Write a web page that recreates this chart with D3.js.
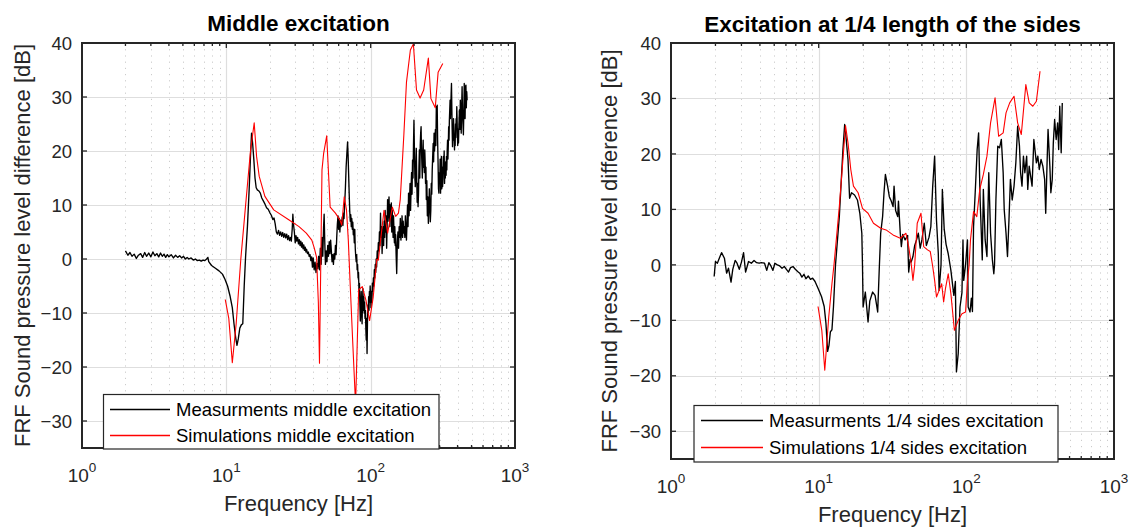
<!DOCTYPE html>
<html><head><meta charset="utf-8">
<script src="https://cdn.jsdelivr.net/npm/d3@7"></script>
<style>
body{margin:0;background:#fff}
svg{display:block}
text{font-family:"Liberation Sans",Arial,Helvetica,sans-serif;fill:#262626}
</style>
</head><body>
<svg id="c" width="1132" height="527"></svg>
<script>
// ---------------- DATA ----------------
const xTickValues = [1, 10, 100, 1000];
const xTickExponents = ["0", "1", "2", "3"];
const yTickValues = [-30, -20, -10, 0, 10, 20, 30, 40];
const titles = ["Middle excitation", "Excitation at 1/4 length of the sides"];
const xLabel = "Frequency [Hz]";
const yLabel = "FRF Sound pressure level difference [dB]";
const legendMid = ["Measurments middle excitation", "Simulations middle excitation"];
const legendQuarter = ["Measurments 1/4 sides excitation", "Simulations 1/4 sides excitation"];

// Middle excitation - measurement
const midMeasFreq = [2.0,2.08,2.15,2.22,2.3,2.38,2.46,2.55,2.63,2.72,2.8,2.9,3.0,3.1,3.2,3.3,3.4,3.5,3.6,3.7,3.8,3.9,4.0,4.15,4.3,4.45,4.6,4.75,4.9,5.05,5.2,5.35,5.5,5.7,5.9,6.1,6.3,6.5,6.7,6.9,7.1,7.3,7.45,7.55,7.9,8.4,8.9,9.4,9.8,10.2,10.6,11.0,11.3,11.6,11.85,12.1,12.4,12.7,13.0,13.3,13.6,14.0,14.4,14.7,14.95,15.2,15.5,15.8,16.1,16.4,16.8,17.2,17.6,18.0,18.5,19.0,19.5,20.0,20.5,21.0,21.4,21.8,22.2,22.6,23.0,23.4,23.8,24.2,24.6,25.0,25.4,25.8,26.2,26.6,27.0,27.4,27.8,28.2,28.6,28.9,29.2,29.6,30.0,30.4,30.8,31.2,31.6,32.0,32.4,32.8,33.2,33.6,34.0,34.4,34.8,35.2,35.6,36.0,36.5,37.0,37.5,38.0,38.5,39.0,39.5,40.0,40.6,41.2,41.8,42.4,43.0,43.6,44.2,44.8,45.4,46.0,46.6,47.2,47.6,48.1,48.6,49.2,49.8,50.4,51.0,51.6,52.2,52.8,53.4,54.0,54.6,55.2,55.8,56.4,57.0,57.6,58.2,58.8,59.4,60.0,60.6,61.2,61.8,62.4,63.0,63.6,64.2,64.8,65.4,66.0,66.8,67.6,68.4,69.2,69.8,70.4,71.0,71.6,72.2,72.8,73.4,74.0,74.6,75.2,75.8,76.4,77.0,77.6,78.2,78.8,79.4,80.0,80.6,81.2,81.8,82.4,83.0,83.6,84.2,84.8,85.4,86.0,86.6,87.2,87.8,88.4,89.0,89.6,90.2,90.8,91.4,92.0,92.6,93.2,93.8,94.4,95.0,95.6,96.2,96.8,97.4,98.0,98.6,99.2,99.8,100.5,101.2,102.0,102.8,103.6,104.4,105.2,106.0,106.8,107.6,108.4,109.2,110.0,111.0,112.0,113.0,114.0,115.0,116.0,117.0,118.0,119.0,120.0,121.0,122.0,123.0,124.0,125.0,126.0,127.0,128.0,129.0,130.0,131.0,132.0,133.0,134.0,135.0,136.0,137.0,138.0,139.0,140.0,141.0,142.0,143.0,144.0,145.0,146.0,147.0,148.0,149.0,150.0,151.5,153.0,154.5,156.0,157.5,159.0,160.5,162.0,163.5,165.0,166.5,168.0,169.5,171.0,172.5,174.0,175.5,177.0,178.5,180.0,181.5,183.0,184.5,186.0,187.5,189.0,190.5,192.0,193.5,195.0,196.5,198.0,199.5,201.0,202.5,204.0,205.5,207.0,208.5,210.0,211.5,213.0,214.5,216.0,217.5,219.0,220.5,222.0,223.5,225.0,226.5,228.0,229.5,231.0,232.5,234.0,235.5,237.0,238.5,240.0,241.5,243.0,245.0,247.0,249.0,251.0,253.0,255.0,257.0,259.0,261.0,263.0,265.0,267.0,269.0,271.0,273.0,275.0,277.0,279.0,281.0,283.0,285.0,287.0,289.0,291.0,293.0,295.0,297.0,299.0,301.0,303.0,305.0,307.0,309.0,311.0,313.0,315.0,317.0,319.0,321.0,323.0,325.0,327.0,329.0,331.0,333.0,335.0,337.0,339.0,341.0,343.0,345.0,347.0,349.0,351.0,353.0,355.0,357.0,359.0,361.0,363.0,365.0,367.0,369.0,371.0,373.0,375.0,377.0,379.0,381.0,383.0,385.0,387.0,389.0,391.0,393.0,395.0,397.0,399.0,401.0,403.0,406.0,409.0,412.0,415.0,418.0,421.0,424.0,427.0,430.0,433.0,436.0,439.0,442.0,445.0,448.0,451.0,454.0,457.0,460.0,463.0,466.0];
const midMeasDb = [1.5,0.7,1.2,0.5,0.9,0.1,0.7,1.0,0.3,1.2,0.5,1.1,0.4,1.3,0.6,1.0,0.4,1.1,0.5,0.9,0.3,0.8,0.4,0.8,0.2,0.7,0.3,0.6,0.2,0.5,0.0,0.3,0.0,0.2,-0.2,0.0,-0.3,-0.2,-0.4,-0.2,-0.3,0.0,0.3,-0.5,-1.2,-1.7,-2.2,-2.8,-3.8,-5.0,-6.8,-9.0,-12.0,-14.5,-16.0,-14.8,-12.8,-12.2,-12.0,-5.0,0.5,6.0,13.0,19.0,23.3,21.5,18.5,15.0,13.2,12.8,12.6,12.2,11.3,10.8,10.2,9.5,9.2,8.6,8.1,7.3,7.6,6.5,5.0,4.6,5.3,4.4,5.0,4.2,4.9,4.0,4.7,3.9,4.6,3.6,4.3,3.4,4.0,3.3,5.5,8.3,6.4,5.0,3.0,4.3,3.3,4.0,2.8,3.6,2.5,3.3,2.2,3.0,1.9,2.6,1.6,2.2,1.3,1.8,1.0,1.3,0.5,0.8,-0.3,0.4,-1.5,0.2,-2.0,-0.6,-2.5,-0.8,-1.8,0.5,-2.0,2.0,-1.0,4.0,0.5,6.0,8.3,3.0,-1.0,1.5,-0.5,2.5,0.5,3.2,1.0,3.5,1.5,-0.5,0.8,-1.0,1.0,0.0,2.5,0.8,4.0,6.5,8.0,5.5,7.5,5.0,7.2,6.0,6.8,7.8,6.2,8.5,7.5,10.0,13.0,17.0,19.5,21.7,19.0,15.5,12.0,9.0,7.0,8.2,6.0,7.5,5.5,6.8,4.5,5.5,3.0,5.5,2.0,0.5,-0.5,0.8,-2.0,-1.0,-3.5,-2.5,-6.0,-4.5,-8.5,-11.5,-9.0,-6.0,-10.0,-12.0,-8.0,-5.5,-9.5,-7.0,-10.0,-8.0,-11.0,-9.5,-13.0,-15.0,-11.0,-17.5,-12.0,-8.5,-10.0,-7.0,-9.5,-6.0,-8.0,-5.0,-7.0,-9.0,-6.0,-8.0,-4.5,-6.0,-3.5,-5.0,-2.0,-3.5,-1.0,-2.5,0.0,-1.5,1.5,0.0,3.0,1.5,5.0,2.5,8.5,4.0,6.0,1.0,4.0,6.0,2.5,7.0,4.0,9.0,5.0,8.0,2.0,6.0,11.0,7.0,9.5,11.5,8.0,6.0,10.0,7.5,10.4,5.0,9.0,7.0,4.0,8.0,5.5,3.0,6.0,2.5,4.5,1.0,-2.7,3.0,5.0,2.0,6.0,4.0,7.5,3.5,5.0,8.0,4.0,7.0,4.8,6.0,4.0,8.0,5.5,3.5,6.5,10.0,6.0,12.2,8.0,11.0,14.0,9.0,13.0,16.0,12.0,18.3,15.0,21.0,25.7,20.0,15.0,13.4,17.0,20.5,15.0,10.5,14.0,9.7,12.0,17.0,20.2,15.0,21.0,23.3,24.5,20.0,17.5,15.0,19.5,22.0,17.0,19.5,16.0,20.2,18.0,14.0,17.0,11.0,14.5,8.0,11.5,6.6,9.5,13.0,10.0,6.9,9.0,14.0,12.0,16.5,19.0,21.4,18.0,23.3,20.0,22.0,24.0,21.0,28.2,24.5,28.5,22.0,18.0,13.0,12.2,16.0,14.0,18.5,12.2,16.0,19.0,13.0,17.0,13.4,15.0,19.0,16.5,20.0,14.0,17.5,15.0,18.0,15.5,19.0,16.5,20.0,22.0,18.5,21.0,24.5,22.0,25.7,27.5,29.4,26.0,28.0,30.5,32.5,28.0,24.0,20.8,24.5,22.0,26.0,24.0,22.0,20.2,23.0,21.0,25.0,22.5,26.0,24.0,28.2,26.0,23.0,21.0,24.0,21.5,25.0,27.6,24.0,29.4,26.0,23.3,28.0,31.9,27.0,25.0,23.0,27.0,32.5,28.0,26.0,31.9,32.2,28.0,31.0,29.4];

// Middle excitation - simulation
const midSimFreq = [9.83,10.4,11.0,11.7,12.6,13.5,14.7,15.6,16.2,16.9,18.5,21.3,26.9,31.9,35.8,39.1,40.7,42.2,43.4,44.2,46.0,47.2,49.6,52.4,57.0,61.3,63.0,65.6,68.0,70.0,71.9,75.0,78.6,82.6,87.5,92.7,98.3,104.2,110.3,113.0,123.7,131.1,141.3,149.0,155.8,160.3,169.8,177.0,188.4,197.7,207.7,220.0,233.0,251.0,261.5,280.2,293.4,316.0];
const midSimDb = [-7.5,-11.0,-19.2,-12.0,0.0,9.0,20.0,25.2,19.0,15.3,11.6,9.1,7.3,6.0,4.8,3.5,2.0,0.3,-8.0,-19.3,16.5,19.5,22.8,9.6,8.5,7.2,6.3,11.5,9.1,3.5,-3.9,-15.0,-27.0,-5.7,-5.1,-7.6,-11.4,-7.0,0.0,-0.2,9.0,4.8,9.6,7.9,8.5,11.0,23.0,32.7,38.7,39.8,31.3,29.8,31.3,37.2,29.7,28.0,34.6,36.2];

// 1/4 sides excitation - measurement
const quarterMeasFreq = [1.96,2.0,2.06,2.14,2.2,2.3,2.38,2.45,2.55,2.62,2.72,2.8,2.9,3.0,3.1,3.2,3.35,3.5,3.65,3.8,3.95,4.1,4.3,4.45,4.6,4.75,4.9,5.05,5.25,5.45,5.65,5.85,6.05,6.25,6.45,6.7,6.95,7.2,7.45,7.7,7.95,8.2,8.5,8.8,9.1,9.45,9.9,10.45,10.9,11.2,11.5,11.75,12.0,12.3,12.6,13.0,13.8,14.6,15.0,15.2,15.8,16.2,16.7,17.5,18.3,19.0,19.6,19.8,20.0,20.7,21.6,22.2,23.2,24.1,25.1,25.7,26.3,27.1,27.7,28.3,29.3,30.1,31.0,31.9,32.4,33.2,34.3,34.7,35.7,36.3,37.1,38.5,40.0,40.7,41.6,42.3,43.5,44.7,46.0,47.3,48.7,50.0,51.9,53.6,55.9,57.5,59.2,61.0,62.8,64.6,65.4,67.4,68.8,70.8,72.9,75.4,78.6,82.3,84.3,85.7,88.1,90.6,93.4,94.9,96.0,98.8,101.8,102.9,105.9,108.2,110.0,111.9,115.1,118.4,121.1,124.0,126.8,128.2,130.4,134.1,137.9,141.9,145.9,150.1,153.5,155.2,158.6,163.2,167.8,172.6,177.6,180.6,185.7,190.0,194.4,198.8,204.5,210.4,216.4,222.6,229.0,233.0,238.2,243.6,249.1,256.2,260.6,266.5,272.5,278.7,286.6,291.5,298.1,304.9,311.8,320.6,329.7,339.1,344.8,352.6,357.6,367.8,373.6,381.8,388.2,396.3,405.9,415.1,422.0,429.2,438.9,446.4];
const quarterMeasDb = [-2.1,0.6,0.3,1.4,2.2,1.2,-1.5,-0.6,-3.1,-0.8,0.8,0.3,-0.8,0.5,2.2,-1.3,0.6,0.3,0.8,0.4,0.3,0.4,0.3,-1.0,0.4,-0.2,-1.0,0.3,0.0,-0.2,-0.6,-0.3,-0.8,-1.3,-0.5,-0.3,-0.8,-1.2,-1.5,-2.2,-1.7,-2.5,-2.0,-2.6,-2.4,-3.0,-4.2,-5.7,-7.5,-10.5,-15.6,-14.5,-12.1,-11.7,-7.5,0.0,8.7,20.8,25.3,24.0,19.0,12.0,13.0,12.6,11.7,9.3,5.7,0.0,-7.6,-4.9,-10.3,-6.5,-4.9,-5.5,-8.5,-1.0,5.7,8.7,13.0,16.3,14.2,12.3,11.5,10.5,14.2,9.8,8.7,11.5,5.7,3.3,5.5,4.5,5.3,-1.3,1.0,0.5,1.5,3.5,4.5,5.7,3.0,4.5,7.5,3.5,5.0,6.9,14.2,19.6,8.0,2.0,-4.6,0.0,13.6,6.5,3.7,2.0,-1.0,-5.5,-3.0,-19.3,-16.0,-7.6,-5.0,4.5,-2.8,0.0,4.5,-7.6,-8.5,-6.0,-8.4,6.9,13.6,20.8,23.8,11.7,4.5,0.9,13.6,4.5,1.5,16.6,5.7,0.9,-1.6,0.0,11.7,21.4,21.1,22.6,16.6,9.9,5.7,1.5,8.1,15.4,11.7,14.2,18.4,25.0,21.4,16.6,14.2,19.6,16.6,19.6,13.6,17.8,16.0,14.2,22.6,20.8,18.4,19.6,17.2,19.0,17.8,15.4,9.3,18.9,24.4,17.8,13.0,15.4,22.0,26.2,22.6,25.6,20.8,28.6,20.2,29.2];

// 1/4 sides excitation - simulation
const quarterSimFreq = [9.9,10.5,11.0,11.7,12.3,12.7,13.8,14.6,15.2,15.8,16.5,17.2,18.5,19.8,21.6,23.5,26.3,28.6,31.9,35.7,39.0,40.7,42.3,43.5,44.7,46.5,49.3,51.4,54.6,57.0,59.2,61.0,62.8,65.4,68.1,70.2,72.2,75.4,78.6,83.0,88.1,93.4,98.8,101.8,104.5,106.7,111.9,117.7,123.3,130.4,137.9,145.9,156.5,165.5,177.6,185.7,196.6,210.4,222.6,235.6,252.9,266.5,282.0,298.1,315.6];
const quarterSimDb = [-7.5,-11.8,-19.0,-9.4,-3.4,0.0,10.5,19.0,25.1,22.0,17.2,14.2,13.0,10.2,9.3,7.5,6.6,6.3,5.4,4.8,5.7,3.3,0.3,-2.8,0.0,7.5,9.3,3.3,2.7,2.4,-0.3,-2.8,-5.8,-4.6,-3.4,-6.7,-4.3,-1.6,-5.2,-11.8,-10.0,-8.8,-8.5,-2.8,0.0,4.5,9.6,8.7,13.6,16.3,19.6,25.6,30.1,23.2,23.8,27.4,29.2,30.4,25.6,23.5,32.5,29.2,28.6,29.5,34.9];

// ---------------- DRAW ----------------
const svg = d3.select('#c');
const ink = '#262626';

const panels = [
  {title: titles[0], x0: 82, x1: 515, y0: 43, y1: 448,
   meas: [midMeasFreq, midMeasDb], sim: [midSimFreq, midSimDb], legend: legendMid,
   lg: {x0: 103.5, x1: 439, top: 394.5, bottom: 449, l1: 409.5, l2: 435.5, lx0: 110, lx1: 170, tx: 176},
   ylabX: 22, titleY: 31, tickBase: 482, xlabY: 511},
  {title: titles[1], x0: 671, x1: 1114, y0: 43, y1: 459,
   meas: [quarterMeasFreq, quarterMeasDb], sim: [quarterSimFreq, quarterSimDb], legend: legendQuarter,
   lg: {x0: 694, x1: 1058, top: 405.5, bottom: 462, l1: 420.5, l2: 447.5, lx0: 701, lx1: 763, tx: 769},
   ylabX: 609, titleY: 31.5, tickBase: 493, xlabY: 522}
];

panels.forEach((p, i) => {
  const g = svg.append('g');
  const x = d3.scaleLog().domain([1, 1000]).range([p.x0, p.x1]);
  const y = d3.scaleLinear().domain([-35, 40]).range([p.y1, p.y0]);
  const minorX = x.ticks().filter(v => !xTickValues.includes(v));

  // minor dotted grid (vertical)
  g.append('g').selectAll('line').data(minorX).join('line')
    .attr('x1', d => Math.round(x(d)) + 0.5).attr('x2', d => Math.round(x(d)) + 0.5)
    .attr('y1', p.y0).attr('y2', p.y1)
    .attr('stroke', '#cccccc').attr('stroke-width', 1).attr('stroke-dasharray', '1.2,5');
  // major grid
  g.append('g').selectAll('line').data(xTickValues.slice(1, 3)).join('line')
    .attr('x1', d => Math.round(x(d)) + 0.5).attr('x2', d => Math.round(x(d)) + 0.5)
    .attr('y1', p.y0).attr('y2', p.y1)
    .attr('stroke', '#dedede').attr('stroke-width', 1.2);
  g.append('g').selectAll('line').data(yTickValues.slice(0, -1)).join('line')
    .attr('x1', p.x0).attr('x2', p.x1)
    .attr('y1', d => Math.round(y(d)) + 0.5).attr('y2', d => Math.round(y(d)) + 0.5)
    .attr('stroke', '#dedede').attr('stroke-width', 1.2);

  // clip
  const cid = 'clip' + i;
  svg.append('clipPath').attr('id', cid).append('rect')
    .attr('x', p.x0).attr('y', p.y0).attr('width', p.x1 - p.x0).attr('height', p.y1 - p.y0);

  const line = d3.line().x(d => x(d[0])).y(d => y(d[1]));
  const measData = p.meas[0].map((f, k) => [f, p.meas[1][k]]);
  const simData = p.sim[0].map((f, k) => [f, p.sim[1][k]]);
  const dg = g.append('g').attr('clip-path', `url(#${cid})`);
  dg.append('path').datum(measData).attr('d', line)
    .attr('fill', 'none').attr('stroke', '#000').attr('stroke-width', 1.35).attr('stroke-linejoin', 'round');
  dg.append('path').datum(simData).attr('d', line)
    .attr('fill', 'none').attr('stroke', '#ff0000').attr('stroke-width', 1.1).attr('stroke-linejoin', 'round');

  // ticks (inward, all four sides)
  const tk = g.append('g').attr('stroke', ink).attr('stroke-width', 1.3);
  tk.append('g').selectAll('line').data(minorX).join('line')
    .attr('x1', d => x(d)).attr('x2', d => x(d)).attr('y1', p.y1).attr('y2', p.y1 - 3);
  tk.append('g').selectAll('line').data(minorX).join('line')
    .attr('x1', d => x(d)).attr('x2', d => x(d)).attr('y1', p.y0).attr('y2', p.y0 + 3);
  tk.append('g').selectAll('line').data(xTickValues).join('line')
    .attr('x1', d => x(d)).attr('x2', d => x(d)).attr('y1', p.y1).attr('y2', p.y1 - 5);
  tk.append('g').selectAll('line').data(xTickValues).join('line')
    .attr('x1', d => x(d)).attr('x2', d => x(d)).attr('y1', p.y0).attr('y2', p.y0 + 5);
  tk.append('g').selectAll('line').data(yTickValues).join('line')
    .attr('x1', p.x0).attr('x2', p.x0 + 5).attr('y1', d => y(d)).attr('y2', d => y(d));
  tk.append('g').selectAll('line').data(yTickValues).join('line')
    .attr('x1', p.x1).attr('x2', p.x1 - 5).attr('y1', d => y(d)).attr('y2', d => y(d));

  // frame
  g.append('rect').attr('x', p.x0).attr('y', p.y0).attr('width', p.x1 - p.x0).attr('height', p.y1 - p.y0)
    .attr('fill', 'none').attr('stroke', ink).attr('stroke-width', 2);

  // y tick labels
  g.append('g').selectAll('text').data(yTickValues).join('text')
    .attr('x', p.x0 - 10).attr('y', d => y(d)).attr('dy', '0.36em')
    .attr('text-anchor', 'end').attr('font-size', 18.5).text(d => d < 0 ? '\u2212' + Math.abs(d) : d);

  // x tick labels (10^n)
  const xl = g.append('g').selectAll('text').data(xTickValues).join('text')
    .attr('x', d => x(d)).attr('y', p.tickBase).attr('text-anchor', 'middle').attr('font-size', 19);
  xl.append('tspan').text('10');
  xl.append('tspan').attr('dy', -10).attr('font-size', 13.5).text((d, k) => xTickExponents[k]);

  // axis labels
  g.append('text').attr('x', (p.x0 + p.x1) / 2).attr('y', p.xlabY)
    .attr('text-anchor', 'middle').attr('font-size', 22).text(xLabel);
  g.append('text').attr('transform', `translate(${p.ylabX},${(p.y0 + p.y1) / 2}) rotate(-90)`)
    .attr('dy', '0.36em').attr('text-anchor', 'middle').attr('font-size', 22).text(yLabel);

  // title
  g.append('text').attr('x', (p.x0 + p.x1) / 2).attr('y', p.titleY)
    .attr('text-anchor', 'middle').attr('font-size', 22.5).attr('font-weight', 'bold')
    .style('fill', '#000').text(p.title);

  // legend
  const L = p.lg;
  const lgG = svg.append('g');
  lgG.append('rect').attr('x', L.x0).attr('y', L.top).attr('width', L.x1 - L.x0).attr('height', L.bottom - L.top)
    .attr('fill', '#fff').attr('stroke', ink).attr('stroke-width', 1.2);
  const items = [{c: '#000000', yy: L.l1, t: p.legend[0]}, {c: '#ff0000', yy: L.l2, t: p.legend[1]}];
  lgG.append('g').selectAll('line').data(items).join('line')
    .attr('x1', L.lx0).attr('x2', L.lx1).attr('y1', d => d.yy).attr('y2', d => d.yy)
    .style('stroke', d => d.c).attr('stroke-width', 1.4);
  lgG.append('g').selectAll('text').data(items).join('text')
    .attr('x', L.tx).attr('y', d => d.yy).attr('dy', '0.36em').attr('font-size', 18.5)
    .style('fill', '#000').text(d => d.t);
});
</script>
</body></html>
